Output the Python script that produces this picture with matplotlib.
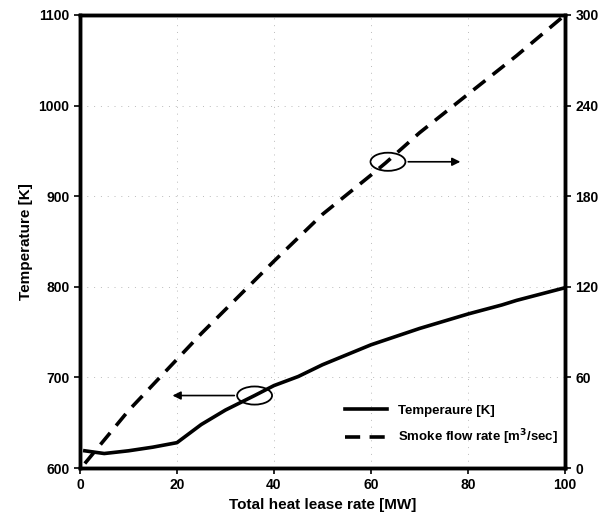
import matplotlib.pyplot as plt
from matplotlib.patches import Ellipse

plt.rcParams['font.family'] = ['Liberation Sans', 'DejaVu Sans']
plt.rcParams['font.weight'] = 'bold'

# heat release rate [MW]
hrr = [1, 5, 10, 15, 20, 25, 30, 36, 40, 45, 50, 60, 70, 80, 87, 90, 100]
# temperature [K]
temp = [619, 616, 619, 623, 628, 648, 664, 680, 691, 701, 714, 736, 754, 770, 780, 785, 799]

hrr_q = [1, 10, 20, 25, 30, 40, 50, 60, 63, 70, 79, 90, 100]
# smoke flow rate [m3/sec]
smoke = [3, 38, 72, 89, 105, 137, 168, 194, 202, 222, 245, 273, 300]

fig = plt.figure(figsize=(6, 5.28), dpi=100)
ax = fig.add_axes([0.1333, 0.1136, 0.8084, 0.858])
ax2 = ax.twinx()

ax.plot(hrr, temp, color='black', lw=2.6, label='Temperaure [K]')
ax2.plot(hrr_q, smoke, color='black', lw=2.6, ls=(0, (4.2, 2.6)),
         label='Smoke flow rate [m$^3$/sec]')

ax.set_xlim(0, 100)
ax.set_ylim(600, 1100)
ax2.set_ylim(0, 300)
ax.set_xticks([0, 20, 40, 60, 80, 100])
ax.set_yticks([600, 700, 800, 900, 1000, 1100])
ax2.set_yticks([0, 60, 120, 180, 240, 300])

ax.grid(True, color='#bbbbbb', ls=(0, (1, 6)), lw=0.7)

for a in (ax, ax2):
    for s in a.spines.values():
        s.set_linewidth(2.5)
    a.tick_params(labelsize=10, width=1.2, length=4)

ax.set_xlabel('Total heat lease rate [MW]', fontsize=11, fontweight='bold')
ax.set_ylabel('Temperature [K]', fontsize=11, fontweight='bold')

# annotations: ellipses with arrows
ax.add_patch(Ellipse((36, 680), 7.2, 20, fill=False, lw=1.3, color='black'))
ax.annotate('', xy=(18.5, 680), xytext=(32.4, 680),
            arrowprops=dict(arrowstyle='-|>', color='black', lw=1.2, mutation_scale=12))
ax.add_patch(Ellipse((63.5, 938), 7.2, 20, fill=False, lw=1.3, color='black'))
ax.annotate('', xy=(79, 938), xytext=(67.1, 938),
            arrowprops=dict(arrowstyle='-|>', color='black', lw=1.2, mutation_scale=12))

h1, l1 = ax.get_legend_handles_labels()
h2, l2 = ax2.get_legend_handles_labels()
ax2.legend(h1 + h2, l1 + l2, loc='lower right', frameon=False, fontsize=9.5,
           bbox_to_anchor=(1.01, 0.02), handlelength=3.2, labelspacing=0.8)

fig.savefig('out.png', dpi=100)
